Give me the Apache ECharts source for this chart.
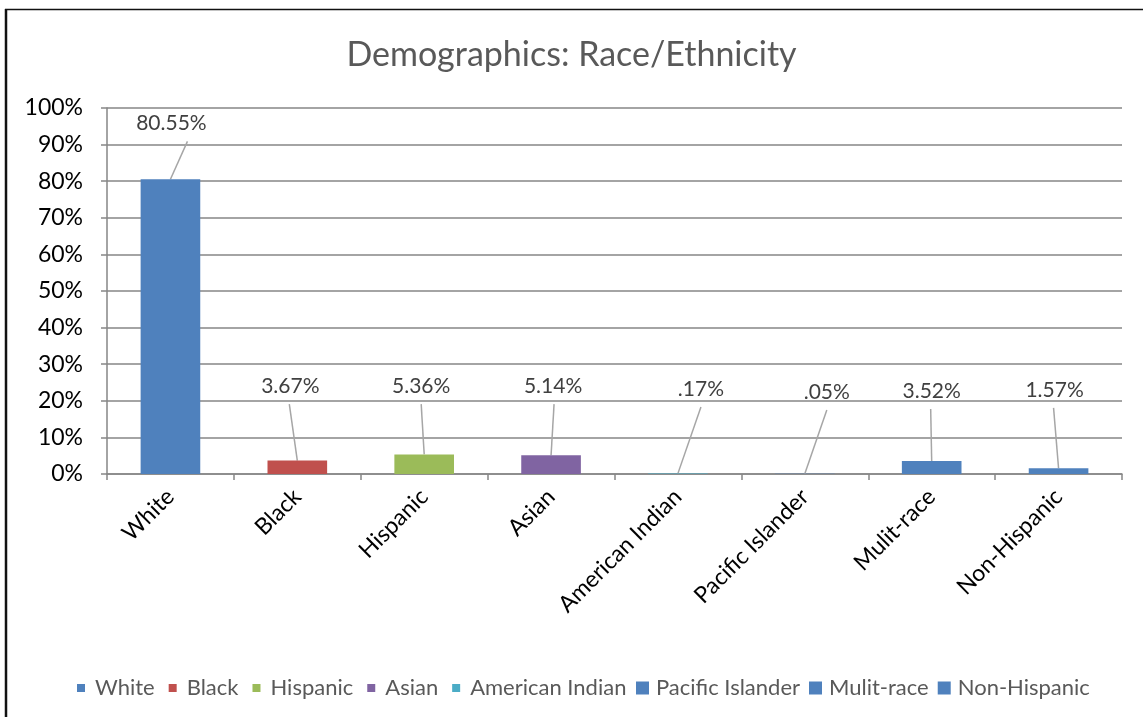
<!DOCTYPE html>
<html>
<head>
<meta charset="utf-8">
<title>Demographics: Race/Ethnicity</title>
<script src="https://cdn.jsdelivr.net/npm/echarts@6/dist/echarts.min.js"></script>
<style>
  html, body { margin: 0; padding: 0; background: #fff; }
  #chart { width: 1143px; height: 717px; }
</style>
</head>
<body>
<div id="chart"></div>
<script>
// Share of population by group (percent)
const categories = ['White', 'Black', 'Hispanic', 'Asian', 'American Indian', 'Pacific Islander', 'Mulit-race', 'Non-Hispanic'];
const values = [80.55, 3.67, 5.36, 5.14, 0.17, 0.05, 3.52, 1.57];
const colors = ['#4f81bd', '#c0504d', '#9bbb59', '#8064a2', '#4bacc6', '#4f81bd', '#4f81bd', '#4f81bd'];
const yTicks = { min: 0, max: 100, interval: 10 };

// Where each value label sits: axis level (percent) and horizontal shift (px) from the bar centre
const labelLevel = [95.8, 24.0, 24.0, 24.0, 23.2, 22.4, 22.7, 23.0];
const labelShift = [1, -7, -3, 2, 23, 22, 0, -4];
// Horizontal offset of the leader line's upper end from the label centre
const leaderTopShift = [16, -1, 0, 1, 0, 0, -1, -1];

const FONT = 'Lato, "Liberation Sans", sans-serif';
const chart = echarts.init(document.getElementById('chart'), null, { renderer: 'canvas' });

function fmtPct(v) {
  return v.toFixed(2).replace(/^0/, '') + '%';
}

const barSeries = categories.map((name, i) => ({
  name: name,
  type: 'bar',
  stack: 'all',
  barWidth: '47%',
  itemStyle: { color: colors[i] },
  data: categories.map((c, j) => (j === i ? values[i] : null)),
  label: {
    show: true,
    position: 'top',
    formatter: p => fmtPct(p.value),
    fontFamily: FONT,
    fontSize: 21,
    color: '#404040'
  },
  labelLayout: function (params) {
    const r = params.rect;
    const lr = params.labelRect;
    const ty = chart.convertToPixel({ yAxisIndex: 0 }, labelLevel[i]);
    const tx = r.x + r.width / 2 + labelShift[i];
    return {
      dx: tx - (lr.x + lr.width / 2),
      dy: ty - (lr.y + lr.height / 2)
    };
  }
}));

// Leader lines joining each bar top to its moved value label
const leaderSeries = {
  type: 'custom',
  silent: true,
  z: 1,
  data: values.map((v, i) => [i, v]),
  renderItem: function (params, api) {
    const i = params.dataIndex;
    const base = api.coord([i, api.value(1)]);
    const lab = api.coord([i, labelLevel[i]]);
    return {
      type: 'line',
      shape: {
        x1: base[0],
        y1: base[1],
        x2: lab[0] + labelShift[i] + leaderTopShift[i],
        y2: lab[1] + 18
      },
      style: { stroke: '#a6a6a6', lineWidth: 1.5 }
    };
  }
};

const option = {
  backgroundColor: '#ffffff',
  animation: false,
  color: colors,
  title: {
    text: 'Demographics: Race/Ethnicity',
    left: 'center',
    top: 33,
    textStyle: { fontFamily: FONT, fontSize: 34, fontWeight: 'normal', color: '#595959' }
  },
  legend: [
    {
      data: categories.slice(0, 5),
      left: 72,
      top: 672,
      icon: 'rect',
      itemWidth: 8,
      itemHeight: 8,
      itemGap: 14,
      textStyle: { fontFamily: FONT, fontSize: 22, color: '#595959', padding: [0, 0, 0, 5] }
    },
    {
      data: categories.slice(5),
      left: 631,
      top: 672,
      icon: 'rect',
      itemWidth: 13,
      itemHeight: 13,
      itemGap: 9,
      textStyle: { fontFamily: FONT, fontSize: 22, color: '#595959', padding: [0, 0, 0, 2] }
    }
  ],
  grid: { left: 107, right: 21, top: 108, bottom: 243, containLabel: false },
  xAxis: {
    type: 'category',
    data: categories,
    axisLine: { lineStyle: { color: '#868686', width: 1.5 } },
    axisTick: { show: true, length: 6, lineStyle: { color: '#868686', width: 1.5 } },
    axisLabel: { rotate: 45, margin: 19, fontFamily: FONT, fontSize: 23, color: '#000', interval: 0 }
  },
  yAxis: {
    type: 'value',
    min: yTicks.min,
    max: yTicks.max,
    interval: yTicks.interval,
    axisLine: { show: true, lineStyle: { color: '#868686', width: 1.5 } },
    axisTick: { show: true, length: 6, lineStyle: { color: '#868686', width: 1.5 } },
    axisLabel: { formatter: '{value}%', margin: 24, fontFamily: FONT, fontSize: 23, color: '#000' },
    splitLine: { show: true, lineStyle: { color: '#868686', width: 1.5 } }
  },
  graphic: [
    { type: 'line', shape: { x1: 6, y1: 9, x2: 6, y2: 717 }, style: { stroke: '#111', lineWidth: 2.5 } },
    { type: 'line', shape: { x1: 5, y1: 9.5, x2: 1143, y2: 9.5 }, style: { stroke: '#111', lineWidth: 1.5 } }
  ],
  series: barSeries.concat([leaderSeries])
};

chart.setOption(option);
</script>
</body>
</html>
